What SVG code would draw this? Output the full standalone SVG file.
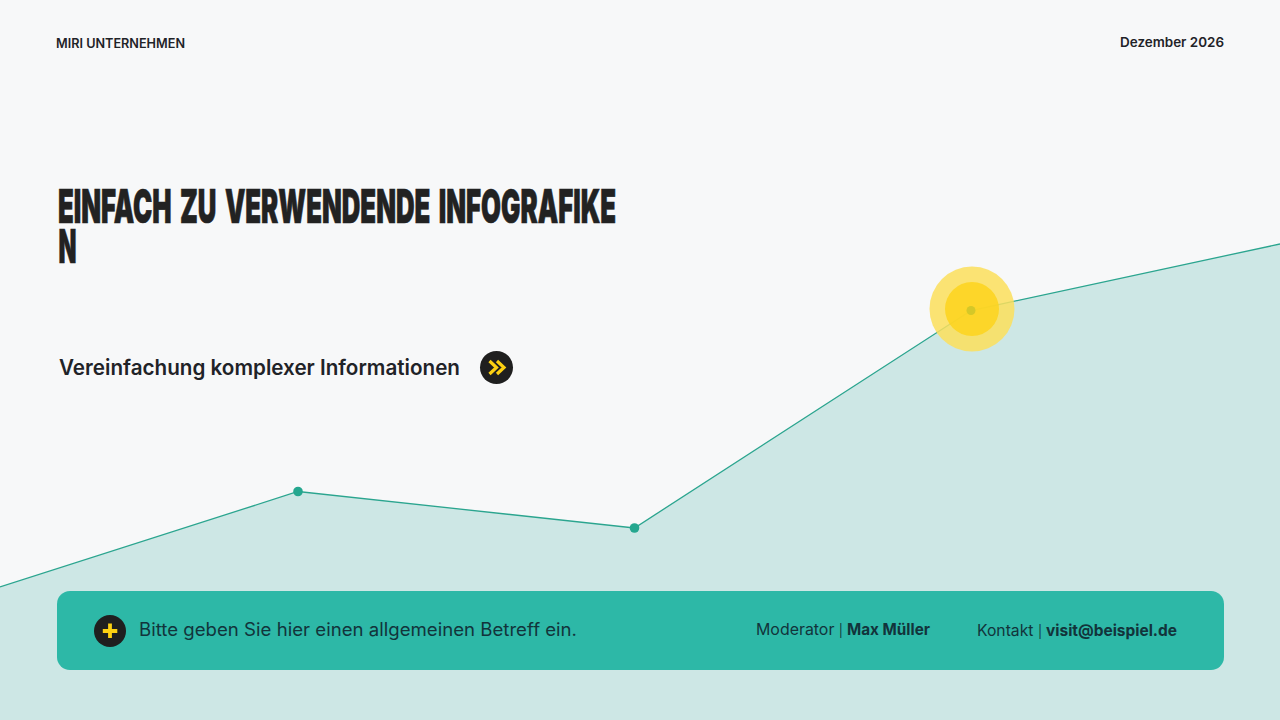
<svg xmlns="http://www.w3.org/2000/svg" width="1280" height="720" viewBox="0 0 1280 720">
<style>
text{font-family:"Inter","Liberation Sans",sans-serif;fill:#1f2328}
.t{font-weight:900;font-size:46.500px;fill:#222;stroke:#222;stroke-width:.7px;word-spacing:6px}
.f{font-size:16px;fill:#12343b}
.s{font-size:16px;fill:#12343b;font-weight:700}
.bar{font-size:12.500px}
</style>
<rect width="1280" height="720" fill="#f7f8f9"/>
<g id="chart">
<polygon points="0,587 298,491.500 634.500,528 971,310.500 1280,244 1280,720 0,720" fill="#cde7e5"/>
</g>
<g id="connectors" fill="none" stroke="#2ba58f" stroke-width="1.300">
<polyline points="0,587 298,491.500 634.500,528 971,310.500 1280,244"/>
</g>
<g id="point-1"><circle cx="298" cy="491.500" r="4.800" fill="#25a78f"/></g>
<g id="point-2"><circle cx="634.500" cy="528" r="4.800" fill="#25a78f"/></g>
<g id="highlight">
<circle cx="972" cy="309" r="42.500" fill="#fcdf5c" fill-opacity=".85"/>
<circle cx="972" cy="309" r="27" fill="#fdd41c" fill-opacity=".85"/>
<circle cx="971" cy="310.500" r="4.500" fill="#d4c828"/>
</g>
<g id="header">
<text x="56" y="48" font-size="12.500" font-weight="600" textLength="129" lengthAdjust="spacingAndGlyphs">MIRI UNTERNEHMEN</text>
<text x="1224" y="47" font-size="13" font-weight="600" text-anchor="end" textLength="104" lengthAdjust="spacingAndGlyphs">Dezember 2026</text>
</g>
<g id="title">
<text class="t" x="58" y="223" textLength="558" lengthAdjust="spacingAndGlyphs">EINFACH ZU VERWENDENDE INFOGRAFIKE</text>
<text class="t" x="58.500" y="263" textLength="18" lengthAdjust="spacingAndGlyphs">N</text>
</g>
<g id="subtitle">
<text x="59" y="375" font-size="21" font-weight="600" textLength="401" lengthAdjust="spacingAndGlyphs">Vereinfachung komplexer Informationen</text>
<circle cx="496.500" cy="367.500" r="16.500" fill="#1f1f1f"/>
<path d="M489.500 361l7 6.500-7 6.500M497 361l7 6.500-7 6.500" fill="none" stroke="#fcd012" stroke-width="3.200"/>
</g>
<g id="footer-bar">
<rect x="57" y="591" width="1167" height="79" rx="13" fill="#2db8a7"/>
<circle cx="110" cy="631" r="16" fill="#1f1f1f"/>
<path d="M110 623.500v14.500M102.800 631h14.500" stroke="#fcd012" stroke-width="3.800" fill="none"/>
<text class="f" x="139" y="636" style="font-size:18px" textLength="438" lengthAdjust="spacingAndGlyphs">Bitte geben Sie hier einen allgemeinen Betreff ein.</text>
<text class="f" x="756" y="635" textLength="87" lengthAdjust="spacingAndGlyphs">Moderator <tspan class="bar">|</tspan></text>
<text class="s" x="847" y="635" textLength="83" lengthAdjust="spacingAndGlyphs">Max Müller</text>
<text class="f" x="977" y="636" textLength="65" lengthAdjust="spacingAndGlyphs">Kontakt <tspan class="bar">|</tspan></text>
<text class="s" x="1046" y="636" textLength="131" lengthAdjust="spacingAndGlyphs">visit@beispiel.de</text>
</g>
</svg>
